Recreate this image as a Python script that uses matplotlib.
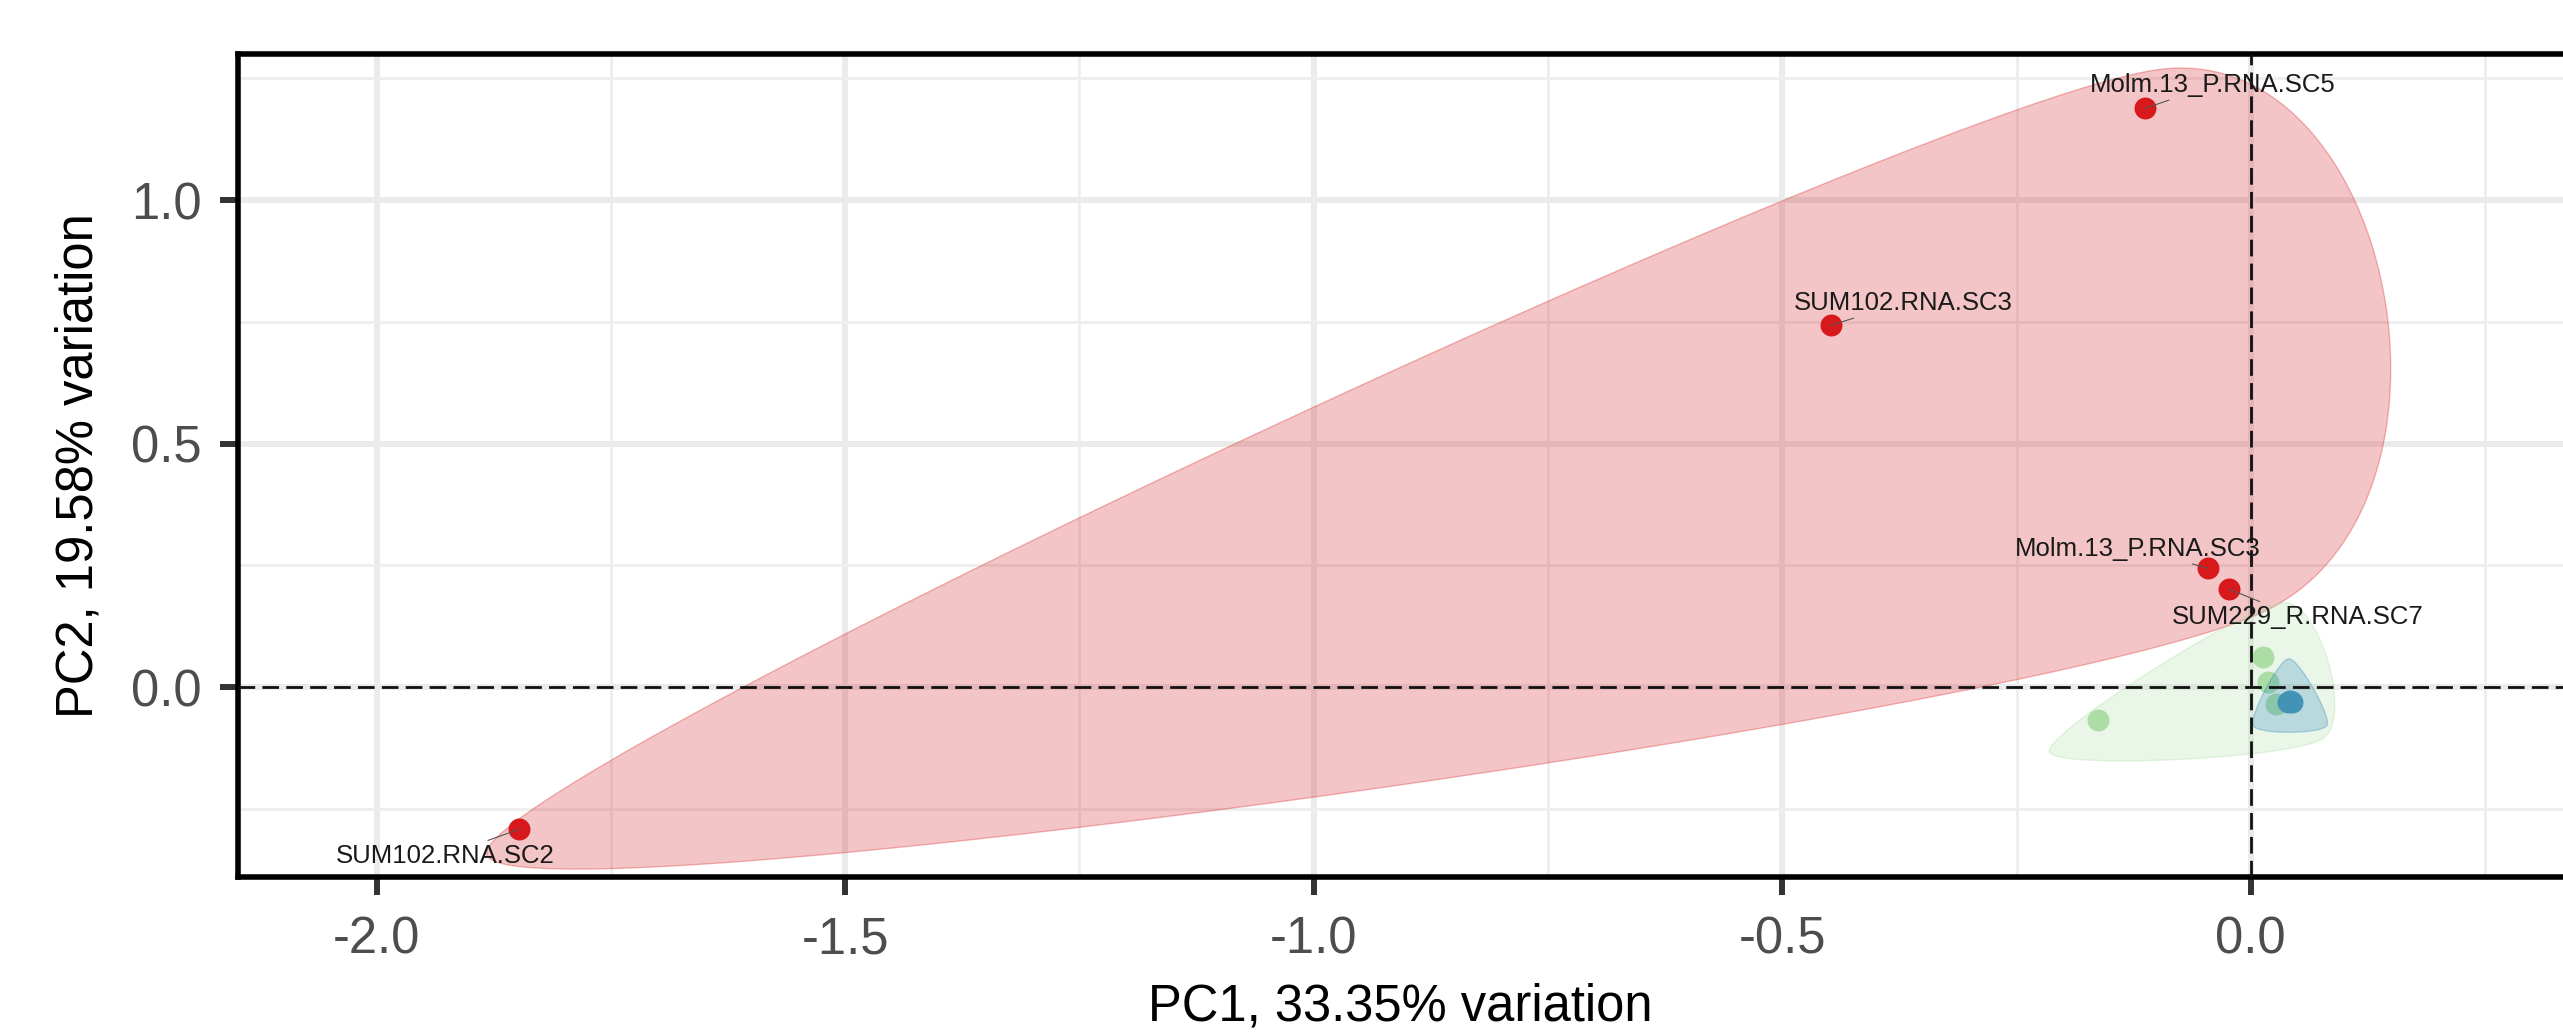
import matplotlib
matplotlib.use("Agg")
import matplotlib.pyplot as plt
from matplotlib.ticker import MultipleLocator
import numpy as np

plt.rcParams['font.family'] = ['Liberation Sans', 'DejaVu Sans']
plt.rcParams['axes.unicode_minus'] = False

# PCA scores (PC1, PC2)
red_names = ["SUM102.RNA.SC2", "SUM102.RNA.SC3", "Molm.13_P.RNA.SC5",
             "Molm.13_P.RNA.SC3", "SUM229_R.RNA.SC7"]
red_pc1 = [-1.848, -0.448, -0.113, -0.046, -0.023]
red_pc2 = [-0.292, 0.743, 1.188, 0.244, 0.201]

green_pc1 = [0.013, 0.018, 0.027, -0.163]
green_pc2 = [0.062, 0.010, -0.035, -0.068]

# three blue samples sit almost on top of each other
blue_pc1 = [0.0418, 0.0398, 0.0440]
blue_pc2 = [-0.0280, -0.0309, -0.0309]

x_ticks = [-2.0, -1.5, -1.0, -0.5, 0.0]
y_ticks = [0.0, 0.5, 1.0]
x_title = "PC1, 33.35% variation"
y_title = "PC2, 19.58% variation"

# label offsets (points) for the repelled sample names
lab_offsets = [(-53, -19), (52, 16), (49, 17), (-50, 14), (49, -20)]

RED, GREEN, BLUE = "#D7191C", "#ABDDA4", "#2B83BA"


def encircle(ax, xs, ys, expand=41, k=0.4, n=80):
    # rough take on ggalt::geom_encircle: hull, push out, closed spline
    pts = ax.transData.transform(np.column_stack([xs, ys]))
    bb = ax.get_window_extent()
    p = sorted(map(tuple, pts))

    def cross(o, a, b):
        return (a[0]-o[0])*(b[1]-o[1]) - (a[1]-o[1])*(b[0]-o[0])
    lower, upper = [], []
    for q in p:
        while len(lower) >= 2 and cross(lower[-2], lower[-1], q) <= 0:
            lower.pop()
        lower.append(q)
    for q in reversed(p):
        while len(upper) >= 2 and cross(upper[-2], upper[-1], q) <= 0:
            upper.pop()
        upper.append(q)
    hull = np.array(lower[:-1] + upper[:-1])

    c = pts.mean(axis=0)
    d = (hull - c) / [bb.width, bb.height]
    d = d / np.linalg.norm(d, axis=1)[:, None]
    ctrl = hull + expand * d

    m = len(ctrl)
    t = np.linspace(0, 1, n, endpoint=False)[:, None]
    h00 = 2*t**3 - 3*t**2 + 1
    h10 = t**3 - 2*t**2 + t
    h01 = -2*t**3 + 3*t**2
    h11 = t**3 - t**2
    curve = []
    for i in range(m):
        p0, p1, p2, p3 = ctrl[i-1], ctrl[i], ctrl[(i+1) % m], ctrl[(i+2) % m]
        m1 = k*(p2 - p0)
        m2 = k*(p3 - p1)
        curve.append(h00*p1 + h10*m1 + h01*p2 + h11*m2)
    curve = np.vstack(curve)
    return ax.transData.inverted().transform(curve)


fig = plt.figure(figsize=(25.63, 10.35), dpi=100)
ax = fig.add_axes([238/2563, 158/1035, 2325/2563, 823/1035])
ax.set_xlim(-2.148, 0.3332)
ax.set_ylim(-0.390, 1.2998)

ax.set_xticks(x_ticks)
ax.set_xticklabels(["%.1f" % v for v in x_ticks])
ax.set_yticks(y_ticks)
ax.set_yticklabels(["%.1f" % v for v in y_ticks])
ax.xaxis.set_minor_locator(MultipleLocator(0.25))
ax.yaxis.set_minor_locator(MultipleLocator(0.25))
ax.grid(which='major', color='#EBEBEB', linewidth=4.3, zorder=0)
ax.grid(which='minor', color='#EEEEEE', linewidth=2.0, zorder=0)
ax.set_axisbelow(True)
ax.tick_params(which='minor', length=0)
ax.tick_params(which='major', length=13, width=4.3, color='#333333',
               labelsize=36.5, labelcolor='#4D4D4D')
ax.tick_params(axis='x', pad=15)
ax.tick_params(axis='y', pad=13)

for s in ['left', 'top', 'bottom']:
    ax.spines[s].set_linewidth(4)
    ax.spines[s].set_color('black')
ax.spines['right'].set_visible(False)

ax.set_xlabel(x_title, fontsize=36.5, color='black')
ax.set_ylabel(y_title, fontsize=36.5, color='black')
ax.xaxis.set_label_coords(0.5, -0.128)
ax.yaxis.set_label_coords(-0.058, 0.5)

# points
ax.scatter(red_pc1, red_pc2, s=250, color=RED, linewidths=0, zorder=2)
ax.scatter(green_pc1, green_pc2, s=250, color=GREEN, linewidths=0, zorder=2)
ax.scatter(blue_pc1, blue_pc2, s=250, color=BLUE, linewidths=0, zorder=2)

# encircled groups
for xs, ys, col, ex in [(red_pc1, red_pc2, RED, 41), (green_pc1, green_pc2, GREEN, 58),
                        (blue_pc1, blue_pc2, BLUE, 42)]:
    shape = encircle(ax, xs, ys, expand=ex)
    ax.fill(shape[:, 0], shape[:, 1], color=col, alpha=0.25, linewidth=0, zorder=3)
    ax.plot(np.append(shape[:, 0], shape[0, 0]), np.append(shape[:, 1], shape[0, 1]),
            color=col, alpha=0.3, linewidth=1, zorder=3)

ax.axhline(0, color='#111111', linewidth=2.0, dashes=(6, 2.6), zorder=4)
ax.axvline(0, color='#111111', linewidth=2.0, dashes=(6, 2.6), zorder=4)

for name, x, y, off in zip(red_names, red_pc1, red_pc2, lab_offsets):
    ax.annotate(name, (x, y), xytext=off, textcoords='offset points',
                ha='center', va='center', fontsize=18.5, color='#1a1a1a', zorder=5,
                arrowprops=dict(arrowstyle='-', color='#555555', lw=0.8,
                                shrinkA=1, shrinkB=0))

fig.savefig("out.png", dpi=100)
